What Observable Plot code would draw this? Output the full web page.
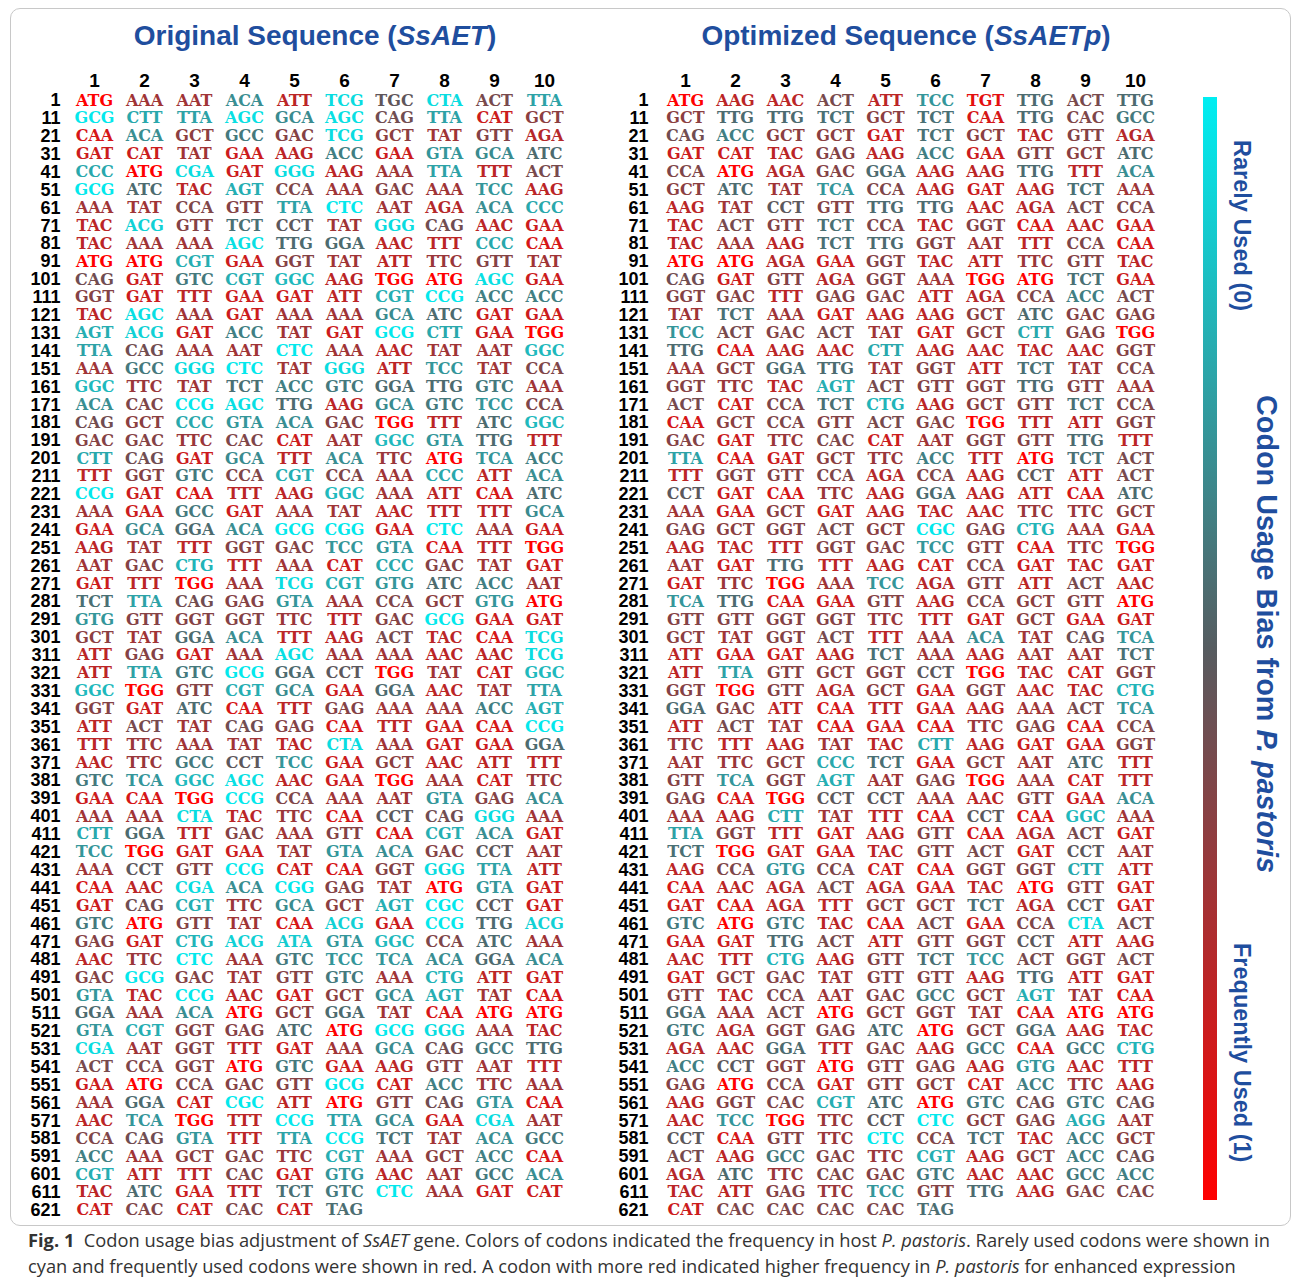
<!DOCTYPE html>
<html><head><meta charset="utf-8">
<script src="https://cdn.jsdelivr.net/npm/d3@7"></script>
<script src="https://cdn.jsdelivr.net/npm/@observablehq/plot@0.6"></script>
<style>
body{margin:0;background:#fff;}
#wrap{position:relative;width:1295px;height:1282px;overflow:hidden;font-family:"Liberation Sans",Arial,sans-serif;background:#fff;}
#frame{position:absolute;left:10px;top:8px;width:1281px;height:1218px;border:1px solid #c8c8c8;border-radius:10px;box-sizing:border-box;}
.title{position:absolute;top:20px;font-weight:bold;font-size:28px;line-height:32px;color:#1f4e9e;white-space:nowrap;transform:translateX(-50%);}
.panel{position:absolute;top:0;}
#bar{position:absolute;left:1203px;top:97px;width:14px;height:1103px;}
.vlab{position:absolute;writing-mode:vertical-rl;font-weight:bold;color:#1f4e9e;white-space:nowrap;line-height:1;}
#caption{position:absolute;left:28px;top:1227px;font-family:"Open Sans",sans-serif;font-size:18.3px;line-height:26px;color:#333;white-space:nowrap;}
</style>
</head><body>
<div id="wrap">
  <div id="frame"></div>
  <div class="title" style="left:315px">Original Sequence (<i>SsAET</i>)</div>
  <div class="title" style="left:906px">Optimized Sequence (<i>SsAETp</i>)</div>
  <div id="p1" class="panel" style="left:0px"></div>
  <div id="p2" class="panel" style="left:590px"></div>
  <div id="bar"></div>
  <div class="vlab" style="left:1229px;top:140px;font-size:23.5px">Rarely Used (0)</div>
  <div class="vlab" style="left:1252px;top:395px;font-size:28.8px">Codon Usage Bias from <i>P. pastoris</i></div>
  <div class="vlab" style="left:1229px;top:943px;font-size:23.5px">Frequently Used (1)</div>
  <div id="caption"><b>Fig. 1</b>&nbsp; Codon usage bias adjustment of <i>SsAET</i> gene. Colors of codons indicated the frequency in host <i>P. pastoris</i>. Rarely used codons were shown in<br>cyan and frequently used codons were shown in red. A codon with more red indicated higher frequency in <i>P. pastoris</i> for enhanced expression</div>
</div>
<script>
// ---- data ----
const colLabels = [1,2,3,4,5,6,7,8,9,10];
const rowLabels = [1,11,21,31,41,51,61,71,81,91,101,111,121,131,141,151,161,171,181,191,201,211,221,231,241,251,261,271,281,291,301,311,321,331,341,351,361,371,381,391,401,411,421,431,441,451,461,471,481,491,501,511,521,531,541,551,561,571,581,591,601,611,621];

const originalRows = [
"ATG AAA AAT ACA ATT TCG TGC CTA ACT TTA",
"GCG CTT TTA AGC GCA AGC CAG TTA CAT GCT",
"CAA ACA GCT GCC GAC TCG GCT TAT GTT AGA",
"GAT CAT TAT GAA AAG ACC GAA GTA GCA ATC",
"CCC ATG CGA GAT GGG AAG AAA TTA TTT ACT",
"GCG ATC TAC AGT CCA AAA GAC AAA TCC AAG",
"AAA TAT CCA GTT TTA CTC AAT AGA ACA CCC",
"TAC ACG GTT TCT CCT TAT GGG CAG AAC GAA",
"TAC AAA AAA AGC TTG GGA AAC TTT CCC CAA",
"ATG ATG CGT GAA GGT TAT ATT TTC GTT TAT",
"CAG GAT GTC CGT GGC AAG TGG ATG AGC GAA",
"GGT GAT TTT GAA GAT ATT CGT CCG ACC ACC",
"TAC AGC AAA GAT AAA AAA GCA ATC GAT GAA",
"AGT ACG GAT ACC TAT GAT GCG CTT GAA TGG",
"TTA CAG AAA AAT CTC AAA AAC TAT AAT GGC",
"AAA GCC GGG CTC TAT GGG ATT TCC TAT CCA",
"GGC TTC TAT TCT ACC GTC GGA TTG GTC AAA",
"ACA CAC CCG AGC TTG AAG GCA GTC TCC CCA",
"CAG GCT CCC GTA ACA GAC TGG TTT ATC GGC",
"GAC GAC TTC CAC CAT AAT GGC GTA TTG TTT",
"CTT CAG GAT GCA TTT ACA TTC ATG TCA ACC",
"TTT GGT GTC CCA CGT CCA AAA CCC ATT ACA",
"CCG GAT CAA TTT AAG GGC AAA ATT CAA ATC",
"AAA GAA GCC GAT AAA TAT AAC TTT TTT GCA",
"GAA GCA GGA ACA GCG CGG GAA CTC AAA GAA",
"AAG TAT TTT GGT GAC TCC GTA CAA TTT TGG",
"AAT GAC CTG TTT AAA CAT CCC GAC TAT GAT",
"GAT TTT TGG AAA TCG CGT GTG ATC ACC AAT",
"TCT TTA CAG GAG GTA AAA CCA GCT GTG ATG",
"GTG GTT GGT GGT TTC TTT GAC GCG GAA GAT",
"GCT TAT GGA ACA TTT AAG ACT TAC CAA TCG",
"ATT GAG GAT AAA AGC AAA AAA AAC AAC TCG",
"ATT TTA GTC GCG GGA CCT TGG TAT CAT GGC",
"GGC TGG GTT CGT GCA GAA GGA AAC TAT TTA",
"GGT GAT ATC CAA TTT GAG AAA AAA ACC AGT",
"ATT ACT TAT CAG GAG CAA TTT GAA CAA CCG",
"TTT TTC AAA TAT TAC CTA AAA GAT GAA GGA",
"AAC TTC GCC CCT TCC GAA GCT AAC ATT TTT",
"GTC TCA GGC AGC AAC GAA TGG AAA CAT TTC",
"GAA CAA TGG CCG CCA AAA AAT GTA GAG ACA",
"AAA AAA CTA TAC TTC CAA CCT CAG GGG AAA",
"CTT GGA TTT GAC AAA GTT CAA CGT ACA GAT",
"TCC TGG GAT GAA TAT GTA ACA GAC CCT AAT",
"AAA CCT GTT CCG CAT CAA GGT GGG TTA ATT",
"CAA AAC CGA ACA CGG GAG TAT ATG GTA GAT",
"GAT CAG CGT TTC GCA GCT AGT CGC CCT GAT",
"GTC ATG GTT TAT CAA ACG GAA CCG TTG ACG",
"GAG GAT CTG ACG ATA GTA GGC CCA ATC AAA",
"AAC TTC CTC AAA GTC TCC TCA ACA GGA ACA",
"GAC GCG GAC TAT GTT GTC AAA CTG ATT GAT",
"GTA TAC CCG AAC GAT GCT GCA AGT TAT CAA",
"GGA AAA ACA ATG GCT GGA TAT CAA ATG ATG",
"GTA CGT GGT GAG ATC ATG GCG GGG AAA TAC",
"CGA AAT GGT TTT GAT AAA GCA CAG GCC TTG",
"ACT CCA GGT ATG GTC GAA AAG GTT AAT TTT",
"GAA ATG CCA GAC GTT GCG CAT ACC TTC AAA",
"AAA GGA CAT CGC ATT ATG GTT CAG GTA CAA",
"AAC TCA TGG TTT CCG TTA GCA GAA CGA AAT",
"CCA CAG GTA TTT TTA CCG TCT TAT ACA GCC",
"ACC AAA GCT GAC TTC CGT AAA GCT ACC CAA",
"CGT ATT TTT CAC GAT GTG AAC AAT GCC ACA",
"TAC ATC GAA TTT TCT GTC CTC AAA GAT CAT",
"CAT CAC CAT CAC CAT TAG"
];

const optimizedRows = [
"ATG AAG AAC ACT ATT TCC TGT TTG ACT TTG",
"GCT TTG TTG TCT GCT TCT CAA TTG CAC GCC",
"CAG ACC GCT GCT GAT TCT GCT TAC GTT AGA",
"GAT CAT TAC GAG AAG ACC GAA GTT GCT ATC",
"CCA ATG AGA GAC GGA AAG AAG TTG TTT ACA",
"GCT ATC TAT TCA CCA AAG GAT AAG TCT AAA",
"AAG TAT CCT GTT TTG TTG AAC AGA ACT CCA",
"TAC ACT GTT TCT CCA TAC GGT CAA AAC GAA",
"TAC AAA AAG TCT TTG GGT AAT TTT CCA CAA",
"ATG ATG AGA GAA GGT TAC ATT TTC GTT TAC",
"CAG GAT GTT AGA GGT AAA TGG ATG TCT GAA",
"GGT GAC TTT GAG GAC ATT AGA CCA ACC ACT",
"TAT TCT AAA GAT AAG AAG GCT ATC GAC GAG",
"TCC ACT GAC ACT TAT GAT GCT CTT GAG TGG",
"TTG CAA AAG AAC CTT AAG AAC TAC AAC GGT",
"AAA GCT GGA TTG TAT GGT ATT TCT TAT CCA",
"GGT TTC TAC AGT ACT GTT GGT TTG GTT AAA",
"ACT CAT CCA TCT CTG AAG GCT GTT TCT CCA",
"CAA GCT CCA GTT ACT GAC TGG TTT ATT GGT",
"GAC GAT TTC CAC CAT AAT GGT GTT TTG TTT",
"TTA CAA GAT GCT TTC ACC TTT ATG TCT ACT",
"TTT GGT GTT CCA AGA CCA AAG CCT ATT ACT",
"CCT GAT CAA TTC AAG GGA AAG ATT CAA ATC",
"AAA GAA GCT GAT AAG TAC AAC TTC TTC GCT",
"GAG GCT GGT ACT GCT CGC GAG CTG AAA GAA",
"AAG TAC TTT GGT GAC TCC GTT CAA TTC TGG",
"AAT GAT TTG TTT AAG CAT CCA GAT TAC GAT",
"GAT TTC TGG AAA TCC AGA GTT ATT ACT AAC",
"TCA TTG CAA GAA GTT AAG CCA GCT GTT ATG",
"GTT GTT GGT GGT TTC TTT GAT GCT GAA GAT",
"GCT TAT GGT ACT TTT AAA ACA TAT CAG TCA",
"ATT GAA GAT AAG TCT AAA AAG AAT AAT TCT",
"ATT TTA GTT GCT GGT CCT TGG TAC CAT GGT",
"GGT TGG GTT AGA GCT GAA GGT AAC TAC CTG",
"GGA GAC ATT CAA TTT GAA AAG AAA ACT TCA",
"ATT ACT TAT CAA GAA CAA TTC GAG CAA CCA",
"TTC TTT AAG TAT TAC CTT AAG GAT GAA GGT",
"AAT TTC GCT CCC TCT GAA GCT AAT ATC TTT",
"GTT TCA GGT AGT AAT GAG TGG AAA CAT TTT",
"GAG CAA TGG CCT CCT AAA AAC GTT GAA ACA",
"AAA AAG CTT TAT TTT CAA CCT CAA GGC AAA",
"TTA GGT TTT GAT AAG GTT CAA AGA ACT GAT",
"TCT TGG GAT GAA TAC GTT ACT GAT CCT AAT",
"AAG CCA GTG CCA CAT CAA GGT GGT CTT ATT",
"CAA AAC AGA ACT AGA GAA TAC ATG GTT GAT",
"GAT CAA AGA TTT GCT GCT TCT AGA CCT GAT",
"GTC ATG GTC TAC CAA ACT GAA CCA CTA ACT",
"GAA GAT TTG ACT ATT GTT GGT CCT ATT AAG",
"AAC TTT CTG AAG GTT TCT TCC ACT GGT ACT",
"GAT GCT GAC TAT GTT GTT AAG TTG ATT GAT",
"GTT TAC CCA AAT GAC GCC GCT AGT TAT CAA",
"GGA AAA ACT ATG GCT GGT TAT CAA ATG ATG",
"GTC AGA GGT GAG ATC ATG GCT GGA AAG TAC",
"AGA AAC GGA TTT GAC AAG GCC CAA GCC CTG",
"ACC CCT GGT ATG GTT GAG AAG GTG AAC TTT",
"GAG ATG CCA GAT GTT GCT CAT ACC TTC AAG",
"AAG GGT CAC CGT ATC ATG GTC CAG GTC CAG",
"AAC TCC TGG TTC CCT CTC GCT GAG AGG AAT",
"CCT CAA GTT TTC CTC CCA TCT TAC ACC GCT",
"ACT AAG GCC GAC TTC CGT AAG GCT ACC CAG",
"AGA ATC TTC CAC GAC GTC AAC AAC GCC ACC",
"TAC ATT GAG TTC TCC GTT TTG AAG GAC CAC",
"CAT CAC CAC CAC CAC TAG"
];

// codon usage bias (0 = rarely used, 1 = frequently used)
const codons = ["ATG","TGG","TGT","CAA","GAT","CAT","GAA","AAG","ATT","AAC","TTT","TAC","AGA",
  "AAA","AAT","TAT","TTC","GCT","GTT","GGT","GAC","GAG","CCA","CAC","ACT","CAG","TGC","CCT",
  "TTG","GGA","ATC","TAG","TCT","GCC","GTC","ACC","ACA","GCA","GTA","GTG","TCC","TCA",
  "CGT","CCC","AGT","GGC","TTA","CTT","CTG","AGG","ATA","ACG","TCG","CTA","AGC","CGA","GGG",
  "GCG","CTC","CCG","CGG","CGC"];
const bias = [1.0,1.0,0.92,0.88,0.85,0.85,0.85,0.8,0.8,0.8,0.8,0.8,0.78,
  0.72,0.72,0.72,0.7,0.66,0.64,0.64,0.64,0.64,0.62,0.62,0.6,0.58,0.53,0.52,
  0.45,0.45,0.45,0.44,0.43,0.4,0.4,0.38,0.33,0.34,0.3,0.3,0.3,0.3,
  0.22,0.24,0.22,0.18,0.26,0.24,0.2,0.22,0.12,0.1,0.06,0.06,0.05,0.06,0.06,
  0.02,0.02,0.02,0.02,0.02];

const colorDomain = [0, 0.5, 1];
const colorRange = ["#00eef2", "#565c60", "#ff0000"];

// ---- build ----
const biasOf = new Map(codons.map((c, i) => [c, bias[i]]));

function panel(rows, marginLeft, marginRight, labelDx) {
  const data = [];
  rows.forEach((r, i) => r.split(" ").forEach((c, j) =>
    data.push({row: rowLabels[i], col: colLabels[j], codon: c, bias: biasOf.get(c)})));
  return Plot.plot({
    width: 590, height: 1225,
    marginTop: 91, marginBottom: 6.3, marginLeft, marginRight,
    style: {background: "transparent", overflow: "visible"},
    x: {type: "point", domain: colLabels, padding: 0, axis: null},
    y: {type: "band", domain: rowLabels, padding: 0, axis: null},
    color: {type: "linear", domain: colorDomain, range: colorRange},
    marks: [
      Plot.text(data, {x: "col", y: "row", text: "codon", fill: "bias",
        fontFamily: "DejaVu Serif", fontSize: 16, fontWeight: "bold"}),
      Plot.text(rowLabels, {y: d => d, text: d => String(d), frameAnchor: "left", textAnchor: "end",
        dx: labelDx, fontFamily: "Liberation Sans", fontWeight: "bold", fontSize: 18, fill: "black"}),
      Plot.text(colLabels, {x: d => d, text: d => String(d), frameAnchor: "top", lineAnchor: "middle", dy: -11,
        fontFamily: "Liberation Sans", fontWeight: "bold", fontSize: 19, fill: "black"})
    ]
  });
}

document.getElementById("p1").append(panel(originalRows, 93, 46, -33));
document.getElementById("p2").append(panel(optimizedRows, 93, 43, -35));

const stops = colorDomain.map((v, i) => `${colorRange[i]} ${v * 100}%`).join(",");
document.getElementById("bar").style.background = `linear-gradient(to bottom, ${stops})`;
</script>
</body></html>
